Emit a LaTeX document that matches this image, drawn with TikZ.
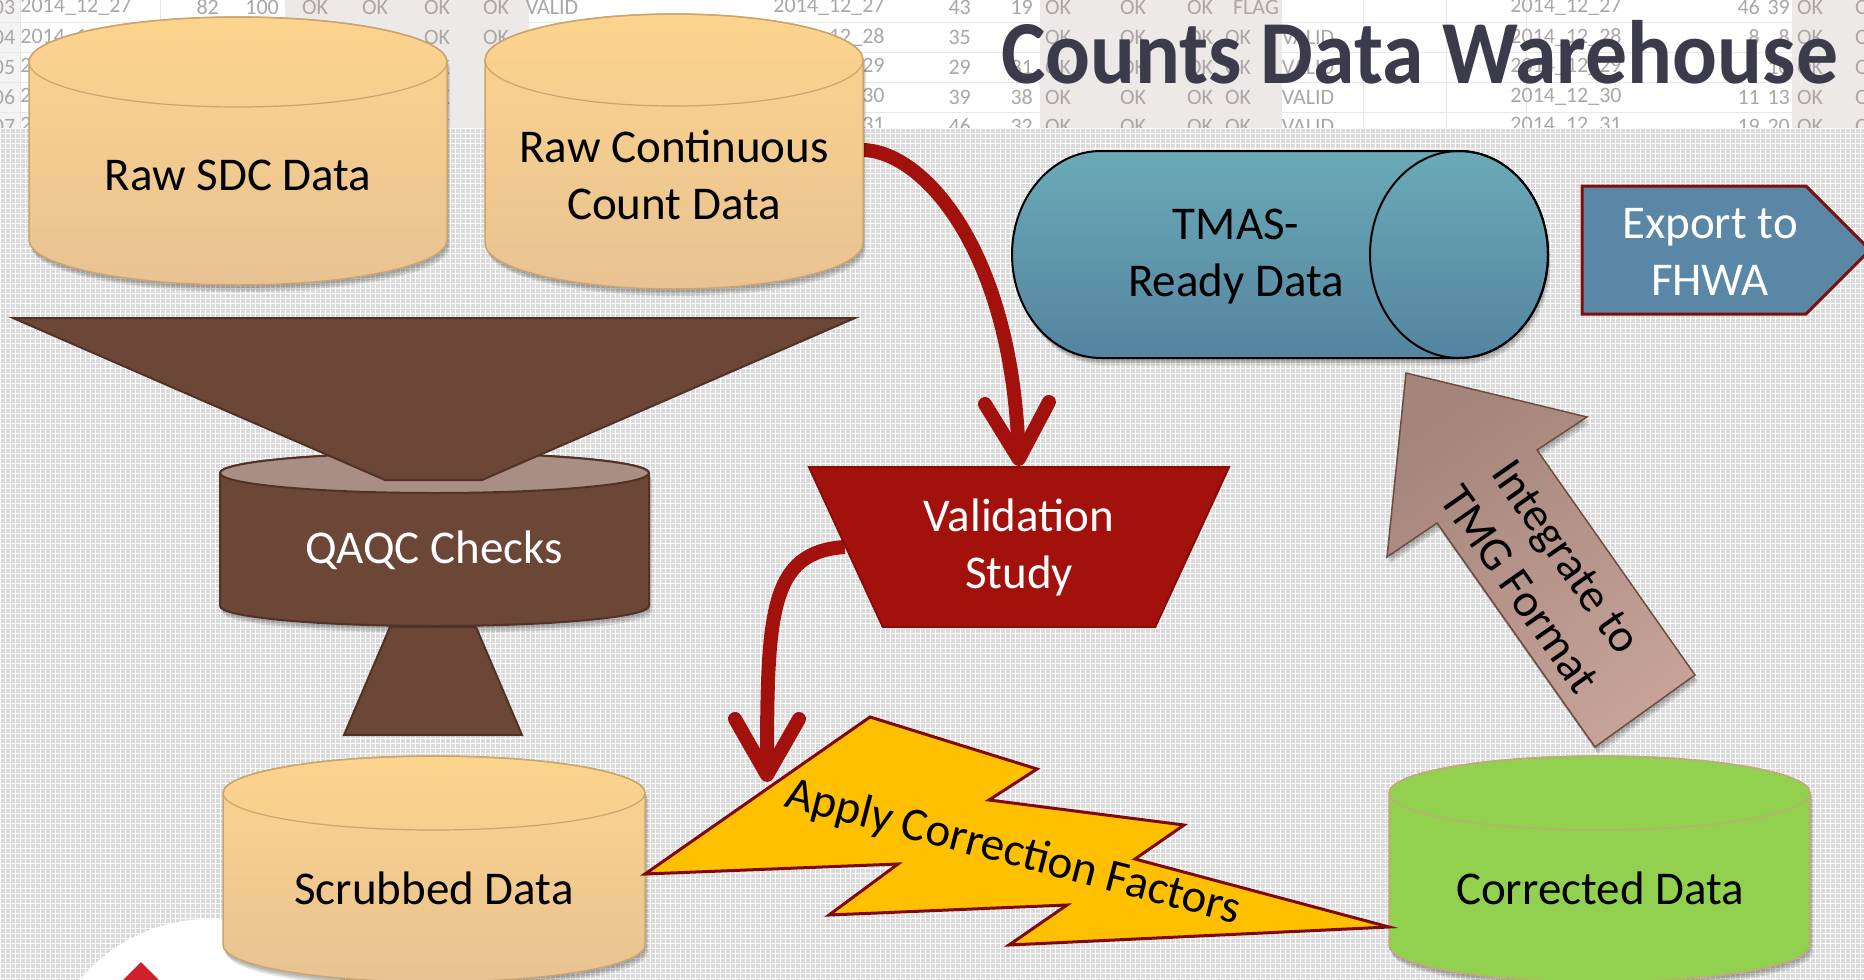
\documentclass[tikz,border=0pt]{standalone}
\usepackage{fontspec}
\setmainfont{Carlito}
\usetikzlibrary{arrows.meta,shapes.geometric}
\pgfdeclarelayer{backdrop}
\pgfdeclarelayer{links}
\pgfsetlayers{backdrop,links,main}

\definecolor{cylTop}{RGB}{253,212,141}
\definecolor{cylBot}{RGB}{232,194,146}
\definecolor{cylEdge}{RGB}{201,166,112}
\definecolor{brownc}{RGB}{108,70,54}
\definecolor{brownEdge}{RGB}{82,50,38}
\definecolor{qaTop}{RGB}{168,142,131}
\definecolor{vred}{RGB}{163,17,13}
\definecolor{vredEdge}{RGB}{135,12,10}
\definecolor{boltY}{RGB}{255,192,0}
\definecolor{boltEdge}{RGB}{128,8,8}
\definecolor{greenc}{RGB}{146,208,80}
\definecolor{greenEdge}{RGB}{196,168,120}
\definecolor{tmasTop}{RGB}{106,170,183}
\definecolor{tmasBot}{RGB}{84,132,160}
\definecolor{exportc}{RGB}{89,135,165}
\definecolor{exportEdge}{RGB}{125,15,15}
\definecolor{integA}{RGB}{164,133,123}
\definecolor{integB}{RGB}{198,162,152}
\definecolor{integEdge}{RGB}{110,76,62}
\definecolor{titlec}{RGB}{60,59,76}
\definecolor{cellc}{RGB}{172,166,166}
\definecolor{shadecol}{RGB}{236,233,231}
\definecolor{rowhead}{RGB}{243,243,243}
\definecolor{rulec}{RGB}{232,232,232}
\definecolor{gridc}{RGB}{218,218,218}
\definecolor{logored}{RGB}{208,32,46}

\tikzset{
  lbl/.style={font=\fontsize{47}{57}\selectfont, align=center, inner sep=0pt},
  cell/.style={font=\fontsize{22}{22}\selectfont, text=cellc, inner sep=0pt},
  flow/.style={draw=vred, line width=14pt, -{Straight Barb[length=56pt,width=64pt,round]}},
  soft/.style={fill=black, fill opacity=0.1},
  orangebody/.style={top color=cylTop, bottom color=cylBot, draw=cylEdge, line width=1.5pt},
  orangerim/.style={draw=cylEdge, line width=1.2pt},
  qabody/.style={fill=brownc, draw=brownEdge, line width=2pt},
  qarim/.style={fill=qaTop, draw=brownEdge, line width=2pt},
  greenbody/.style={fill=greenc, draw=greenEdge, line width=1.5pt},
  greenrim/.style={draw=greenEdge, line width=1.2pt},
}

% upright database cylinder: #1 cx, #2 top cy, #3 bottom cy, #4 rx, #5 ry, #6 body style, #7 rim style
\newcommand\dbcyl[7]{%
  \foreach \s in {1,2,3}{%
    \fill[soft, shift={(\s,2*\s+1)}] (#1-#4,#2) -- (#1-#4,#3)
      arc[start angle=180,end angle=0,x radius=#4,y radius=#5] -- (#1+#4,#2)
      arc[start angle=0,end angle=-180,x radius=#4,y radius=#5] -- cycle;}
  \path[#6] (#1-#4,#2) -- (#1-#4,#3)
      arc[start angle=180,end angle=0,x radius=#4,y radius=#5] -- (#1+#4,#2)
      arc[start angle=0,end angle=-180,x radius=#4,y radius=#5] -- cycle;
  \path[#7] (#1,#2) ellipse[x radius=#4,y radius=#5];}

\begin{document}
\begin{tikzpicture}[x=1pt,y=-1pt]
\useasboundingbox (0,0) rectangle (1864,980);

\begin{pgfonlayer}{backdrop}
  % spreadsheet strip along the top
  \fill[white] (0,0) rectangle (1864,128);
  \fill[rowhead] (0,0) rectangle (20,128);
  \fill[shadecol] (285,0) rectangle (529,128);
  \fill[shadecol] (1040,0) rectangle (1282,128);
  \fill[shadecol] (1792,0) rectangle (1864,128);
  \draw[rulec, line width=1pt] \foreach \y in {22,52,82,112} {(0,\y) -- (1864,\y)};
  \draw[rulec, line width=1pt] \foreach \x in {20,160,1363,1446,1526} {(\x,0) -- (\x,128)};
  \foreach \x/\y/\a/\t [count=\k] in {
    4/7/center/03, 76/7/center/2014\_12\_27, 219/7/east/82, 279/7/east/100,
    315/7/center/OK, 375/7/center/OK, 437/7/center/OK, 496/7/center/OK, 552/7/center/VALID,
    4/37/center/04, 76/37/center/2014\_12\_28, 437/37/center/OK, 496/37/center/OK,
    4/67/center/05, 76/67/center/2014\_12\_29, 437/67/center/OK,
    4/97/center/06, 76/97/center/2014\_12\_30, 437/97/center/OK,
    4/126/center/07, 76/126/center/2014\_12\_31, 437/126/center/OK,
    829/7/center/2014\_12\_27, 971/7/east/43, 1033/7/east/19, 1058/7/center/OK,
    1133/7/center/OK, 1200/7/center/OK, 1256/7/center/FLAG,
    829/37/center/2014\_12\_28, 971/37/east/35, 1058/37/center/OK, 1133/37/center/OK,
    1200/37/center/OK, 1238/37/center/OK, 1308/37/center/VALID,
    829/67/center/2014\_12\_29, 971/67/east/29, 1033/67/east/31, 1058/67/center/OK,
    1133/67/center/OK, 1200/67/center/OK, 1238/67/center/OK, 1308/67/center/VALID,
    829/97/center/2014\_12\_30, 971/97/east/39, 1033/97/east/38, 1058/97/center/OK,
    1133/97/center/OK, 1200/97/center/OK, 1238/97/center/OK, 1308/97/center/VALID,
    829/126/center/2014\_12\_31, 971/126/east/46, 1033/126/east/32, 1058/126/center/OK,
    1133/126/center/OK, 1200/126/center/OK, 1238/126/center/OK, 1308/126/center/VALID,
    1566/7/center/2014\_12\_27, 1760/7/east/46, 1790/7/east/39, 1810/7/center/OK, 1868/7/center/OK,
    1566/37/center/2014\_12\_28, 1760/37/east/8, 1790/37/east/8, 1810/37/center/OK, 1868/37/center/OK,
    1566/67/center/2014\_12\_29, 1790/67/east/10, 1810/67/center/OK, 1868/67/center/OK,
    1566/97/center/2014\_12\_30, 1760/97/east/11, 1790/97/east/13, 1810/97/center/OK, 1868/97/center/OK,
    1566/126/center/2014\_12\_31, 1760/126/east/19, 1790/126/east/20, 1810/126/center/OK, 1868/126/center/OK}
    \node[cell, anchor=\a, name=cell\k] at (\x,\y) {\t};
  % mesh backdrop
  \fill[gridc] (0,128) rectangle (1864,980);
  \draw[white, line width=1pt] \foreach \i in {0,...,372} {(5*\i+0.5,128) -- (5*\i+0.5,980)};
  \draw[white, line width=1pt] \foreach \j in {0,...,170} {(0,128+5*\j+0.5) -- (1864,128+5*\j+0.5)};
  % corner emblem
  \fill[white] (210,1089) circle[radius=170];
  \fill[logored] (141,962) -- (170,991) -- (141,1020) -- (112,991) -- cycle;
\end{pgfonlayer}

% heading
\node[font=\fontsize{90}{94}\selectfont\bfseries, text=titlec, anchor=base west, inner sep=0pt]
  (title) at (1001,83) {\scalebox{0.93}[1]{Counts Data Warehouse}};

% raw sources
\dbcyl{238}{62}{240}{209}{45}{orangebody}{orangerim}
\node[lbl] (rawsdc) at (238,175) {Raw SDC Data};
\dbcyl{674}{60}{243}{189}{46}{orangebody}{orangerim}
\node[lbl, minimum width=378pt] (rawcc) at (674,175) {Raw Continuous\\Count Data};

% QAQC funnel
\dbcyl{434.5}{473}{606}{214.5}{20}{qabody}{qarim}
\path[fill=brownc, draw=brownEdge, line width=2pt] (13,318) -- (855,318) -- (482,480) -- (385,480) -- cycle;
\path[fill=brownc, draw=brownEdge, line width=2pt] (390,627) -- (476,627) -- (522,735) -- (344,735) -- cycle;
\node[lbl, text=white, minimum width=429pt] (qaqc) at (434,550) {QAQC Checks};

% scrubbed and corrected stores
\dbcyl{434}{793}{945}{211}{37}{orangebody}{orangerim}
\node[lbl, minimum width=422pt] (scrub) at (434,888) {Scrubbed Data};
\dbcyl{1599.5}{793}{945}{210.5}{37}{greenbody}{greenrim}
\node[lbl, minimum width=421pt] (corr) at (1600,888) {Corrected Data};

% TMAS-ready store (horizontal cylinder)
\foreach \s in {1,2,3}{%
  \fill[soft, shift={(\s,2*\s+1)}] (1101,151) -- (1459,151)
    arc[start angle=-90,end angle=90,x radius=89,y radius=103.5] -- (1101,358)
    arc[start angle=90,end angle=270,x radius=89,y radius=103.5] -- cycle;}
\path[top color=tmasTop, bottom color=tmasBot, draw=black, line width=2pt] (1101,151) -- (1459,151)
  arc[start angle=-90,end angle=90,x radius=89,y radius=103.5] -- (1101,358)
  arc[start angle=90,end angle=270,x radius=89,y radius=103.5] -- cycle;
\draw[black, line width=2pt] (1459,254.5) ellipse[x radius=89,y radius=103.5];
\node[lbl] (tmas) at (1236,257) {TMAS-\\Ready Data};

% export tag
\path[fill=exportc, draw=exportEdge, line width=3pt]
  (1582,186) -- (1806,186) -- (1870,250) -- (1806,314) -- (1582,314) -- cycle;
\node[lbl, text=white] (export) at (1710,252) {Export to\\FHWA};

% validation study
\node[lbl, trapezium, trapezium left angle=62, trapezium right angle=62, shape border rotate=180,
  trapezium stretches=true, minimum width=422pt, minimum height=160pt,
  fill=vred, draw=vredEdge, line width=2pt, text=white] (valid) at (1019,547) {Validation\\Study};

% correction bolt
\coordinate (boltin) at (767,782);
\path[fill=boltY, draw=boltEdge, line width=3pt]
  (645,874) -- (870,717) -- (1037,769) -- (989,800) -- (1184,825) -- (1135,859) -- (1389,927)
  -- (1009,945) -- (1067,905) -- (829,915) -- (898,864) -- cycle;
\node[lbl, rotate=-14.5] (apply) at (1013,853) {Apply Correction Factors};

% integration arrow
\foreach \s in {1,2,3}{%
  \fill[soft, shift={(\s,2*\s+1)}] (1406,373) -- (1587,417) -- (1537,450) -- (1695,675)
    -- (1595,747) -- (1437,523) -- (1387,557) -- cycle;}
\path[top color=integA, bottom color=integB, shading angle=35, draw=integEdge, line width=1.5pt]
  (1406,373) -- (1587,417) -- (1537,450) -- (1695,675) -- (1595,747) -- (1437,523) -- (1387,557) -- cycle;
\node[lbl, rotate=-55] (integ) at (1543,573) {Integrate to\\TMG Format};

% flow arrows
\begin{pgfonlayer}{links}
  \draw[flow] ([yshift=25pt]rawcc.east) .. controls +(62,2) and +(-7,-213) .. (valid.north);
  \draw[flow] (valid.west) .. controls +(-75,5) and +(0,-170) .. (boltin);
\end{pgfonlayer}
\end{tikzpicture}
\end{document}
